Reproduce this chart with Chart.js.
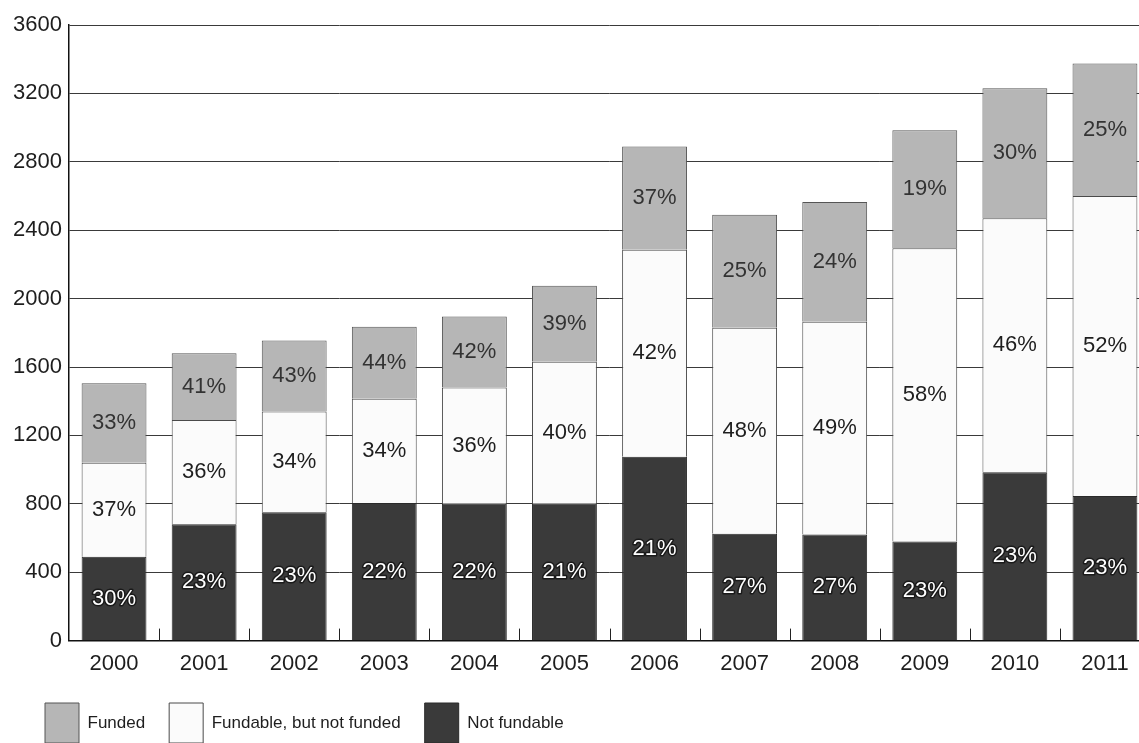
<!DOCTYPE html>
<html>
<head>
<meta charset="utf-8">
<script src="https://cdn.jsdelivr.net/npm/chart.js@4.4.0/dist/chart.umd.min.js"></script>
<style>
html,body{margin:0;padding:0;background:#fff;overflow:hidden;width:1139px;height:743px}
canvas{display:block}
</style>
</head>
<body>
<canvas id="chart" width="1150" height="761"></canvas>
<script>
// data (segment heights, stacked)
const years=["2000","2001","2002","2003","2004","2005","2006","2007","2008","2009","2010","2011"];
const notFundable=[490,680,750,805,800,800,1075,625,620,580,985,845];
const fundable=[550,610,590,610,680,830,1210,1205,1245,1715,1485,1755];
const funded=[465,390,415,420,415,445,605,660,700,690,760,775];

// printed percentage labels
const notFundablePct=[30,23,23,22,22,21,21,27,27,23,23,23];
const fundablePct=[37,36,34,34,36,40,42,48,49,58,46,52];
const fundedPct=[33,41,43,44,42,39,37,25,24,19,30,25];

const yMax=3600, yStep=400;

Chart.defaults.font.family="'Liberation Sans', Arial, sans-serif";
Chart.defaults.color="#1e1e1e";

// percentage text in the middle of each segment
const pctLabels={
  id:"pctLabels",
  afterDatasetsDraw(chart){
    const ctx=chart.ctx;
    ctx.save();
    ctx.font="22px 'Liberation Sans', Arial, sans-serif";
    ctx.textAlign="center";
    ctx.textBaseline="middle";
    chart.data.datasets.forEach((ds,di)=>{
      const meta=chart.getDatasetMeta(di);
      meta.data.forEach((bar,i)=>{
        const txt=ds.pct[i]+"%";
        const y=(bar.y+bar.base)/2;
        if(ds.darkText===false){
          ctx.lineWidth=3; ctx.strokeStyle="#1a1a1a"; ctx.lineJoin="round";
          ctx.strokeText(txt,bar.x,y);
          ctx.fillStyle="#ffffff";
        } else {
          ctx.fillStyle=ds.textColor;
        }
        ctx.fillText(txt,bar.x,y);
      });
    });
    ctx.restore();
  }
};

// short ticks between the categories, pointing up from the axis
const catTicks={
  id:"catTicks",
  afterDatasetsDraw(chart){
    const x=chart.scales.x, a=chart.chartArea, ctx=chart.ctx;
    const w=x.width/years.length;
    ctx.save();
    ctx.strokeStyle="#222"; ctx.lineWidth=1;
    ctx.beginPath();
    for(let i=1;i<years.length;i++){
      const px=Math.round(x.getPixelForValue(i)-w/2)+0.5;
      ctx.moveTo(px,a.bottom); ctx.lineTo(px,a.bottom-12);
    }
    ctx.stroke();
    ctx.restore();
  }
};

// nudge the legend a little right and up
const legendShift={
  id:"legendShift",
  afterLayout(chart){
    const L=chart.legend; if(!L) return;
    L.left+=14; L.right+=14;
    L.top-=8; L.bottom-=8;
  }
};

new Chart(document.getElementById("chart"),{
  type:"bar",
  data:{
    labels:years,
    datasets:[
      {label:"Not fundable",data:notFundable,pct:notFundablePct,darkText:false,
       backgroundColor:"#3a3a3a",borderColor:"#2a2a2a",borderWidth:1},
      {label:"Fundable, but not funded",data:fundable,pct:fundablePct,textColor:"#1e1e1e",
       backgroundColor:"#fbfbfb",borderColor:"#4a4a4a",borderWidth:1,borderDash:[5,3]},
      {label:"Funded",data:funded,pct:fundedPct,textColor:"#333",
       backgroundColor:"#b6b6b6",borderColor:"#555",borderWidth:1}
    ]
  },
  options:{
    responsive:false,
    animation:false,
    layout:{padding:{left:7,top:25,right:0,bottom:0}},
    datasets:{bar:{barPercentage:0.72,categoryPercentage:1}},
    scales:{
      x:{
        stacked:true,
        grid:{display:true,drawOnChartArea:false,drawTicks:false},
        border:{color:"#111",width:1.5},
        ticks:{padding:10,font:{size:22},color:"#1e1e1e"}
      },
      y:{
        stacked:true,min:0,max:yMax,
        grid:{color:"#3a3a3a",lineWidth:1,drawTicks:false},
        border:{color:"#111",width:1.5},
        ticks:{stepSize:yStep,padding:7,font:{size:22},color:"#1e1e1e",callback:v=>String(v)},
        afterFit(s){s.width=62;}
      }
    },
    plugins:{
      legend:{
        position:"bottom",align:"start",reverse:true,
        labels:{boxWidth:34,boxHeight:40,padding:24,font:{size:17},color:"#1e1e1e"}
      },
      tooltip:{enabled:false}
    }
  },
  plugins:[catTicks,pctLabels,legendShift]
});
</script>
</body>
</html>
